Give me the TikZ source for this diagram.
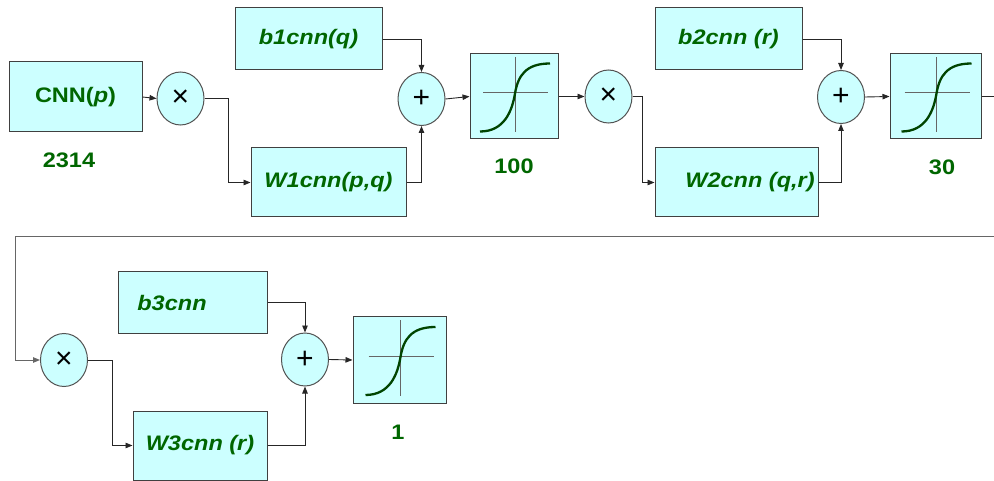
\documentclass[tikz,border=0pt]{standalone}
\usepackage{fontspec}
\usetikzlibrary{arrows.meta,shapes.geometric}
\newfontfamily\lab[FakeStretch=1.12]{Liberation Sans}
\newfontfamily\symf{Liberation Sans}
\definecolor{cfill}{HTML}{CCFFFF}
\definecolor{tgreen}{HTML}{006600}
\definecolor{cgreen}{HTML}{004400}
\definecolor{edgegray}{HTML}{404040}
\tikzset{
  blk/.style={draw=edgegray, line width=1pt, fill=cfill, inner sep=0pt, text=tgreen,
     font=\lab\fontsize{21}{24}\selectfont\bfseries\itshape},
  opnode/.style={ellipse, draw=edgegray!90, line width=1pt, fill=cfill, inner sep=0pt,
     minimum width=47pt, minimum height=53pt, font=\symf\fontsize{30}{30}\selectfont},
  sigbox/.style={draw=edgegray, line width=1pt, fill=cfill, inner sep=0pt},
  num/.style={text=tgreen, font=\lab\fontsize{21}{24}\selectfont\bfseries},
  conn/.style={draw=black!85, line width=0.9pt},
  arr/.style={conn, -{Triangle[length=7pt,width=5.5pt]}},
  sigm/.pic={
    \draw[black!60, line width=1pt] (-31,-3.5) -- (34,-3.5);
    \draw[black!60, line width=1pt] (1,-39.5) -- (1,35.5);
    \draw[cgreen, line width=2.3pt] (-34,35) .. controls (-10,35) and (-2,15) .. (1,-3)
       .. controls (4,-21) and (12,-33) .. (36,-33);
  }
}
\begin{document}
\begin{tikzpicture}[x=1pt,y=-1pt]
\useasboundingbox (0,0) rectangle (994,481);
% top row
\node[blk, minimum width=133pt, minimum height=70pt] (cnn) at (75.5,97) {\upshape CNN(\itshape p\upshape )};
\node[num] (l2314) at (69,160) {2314};
\node[opnode] (m1) at (180.5,98.5) {×};
\node[blk, minimum width=147pt, minimum height=62pt] (b1) at (308.5,39) {b1cnn(q)};
\node[blk, minimum width=155pt, minimum height=69pt] (w1) at (328.5,182.5) {W1cnn(p,q)};
\node[opnode] (a1) at (421.5,99) {+};
\node[sigbox, minimum width=88pt, minimum height=85pt] (s1) at (514,96.5) {};
\pic at (s1.center) {sigm};
\node[num] (l100) at (514,166) {100};
\node[opnode] (m2) at (608.5,96.5) {×};
\node[blk, minimum width=147pt, minimum height=62pt] (b2) at (728.5,39) {b2cnn (r)};
\node[blk, minimum width=163pt, minimum height=69pt] (w2) at (736.5,182.5) {\hspace*{27pt}W2cnn (q,r)};
\node[opnode] (a2) at (841,97) {+};
\node[sigbox, minimum width=91pt, minimum height=85pt] (s2) at (935.5,96.5) {};
\pic at (s2.center) {sigm};
\node[num] (l30) at (942,167) {30};
\coordinate (r1) at (994,96.5);
\coordinate (r2) at (994,236);
\coordinate (k) at (15,236);
% bottom row
\node[opnode] (m3) at (64,360) {×};
\node[blk, minimum width=149pt, minimum height=61pt] (b3) at (192.5,302.5) {b3cnn\hspace*{41pt}};
\node[blk, minimum width=134pt, minimum height=69pt] (w3) at (200,445.5) {W3cnn (r)};
\node[opnode] (a3) at (305,359.5) {+};
\node[sigbox, minimum width=93pt, minimum height=86pt] (s3) at (399.5,360) {};
\pic at (s3.center) {sigm};
\node[num] (l1) at (398,432) {1};
% connectors
\draw[arr] (cnn.east) -- (m1.west);
\draw[arr] (m1.east) -- ++(24,0) |- (w1.west);
\draw[arr] (b1.east) -| (a1.north);
\draw[arr] (w1.east) -| (a1.south);
\draw[arr] (a1.east) -- (s1.west);
\draw[arr] (s1.east) -- (m2.west);
\draw[arr] (m2.east) -- ++(10,0) |- (w2.west);
\draw[arr] (b2.east) -| (a2.north);
\draw[arr] (w2.east) -| (a2.south);
\draw[arr] (a2.east) -- (s2.west);
\draw[conn] (s2.east) -- (r1);
\draw[arr, draw=black!60] (r2) -- (k) |- (m3.west);
\draw[arr] (m3.east) -- ++(24,0) |- (w3.west);
\draw[arr] (b3.east) -| (a3.north);
\draw[arr] (w3.east) -| (a3.south);
\draw[arr] (a3.east) -- (s3.west);
\end{tikzpicture}
\end{document}
